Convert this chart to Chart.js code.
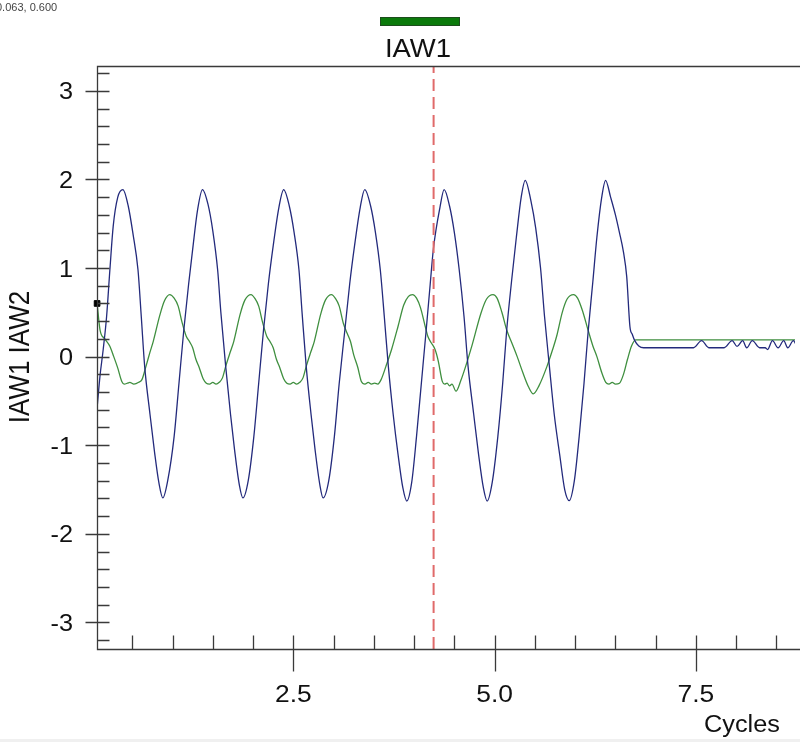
<!DOCTYPE html>
<html>
<head>
<meta charset="utf-8">
<title>IAW1 IAW2</title>
<script src="https://cdn.jsdelivr.net/npm/chart.js@4.4.1/dist/chart.umd.min.js"></script>
<style>
  html, body { margin: 0; padding: 0; background: #f0f0f0; overflow: hidden; }
  canvas { display: block; background: #fff; }
</style>
</head>
<body>
<canvas id="c" width="800" height="739"></canvas>
<script>
// waveform samples (x in cycles)
var iaw1X = [0.065, 0.099, 0.139, 0.181, 0.222, 0.263, 0.32, 0.384,
  0.45, 0.51, 0.571, 0.612, 0.654, 0.72, 0.777, 0.83, 0.88,
  0.94, 1.02, 1.08, 1.14, 1.20, 1.25, 1.31, 1.372,
  1.44, 1.50, 1.56, 1.60, 1.66, 1.72, 1.77, 1.83, 1.874,
  1.94, 2.01, 2.07, 2.13, 2.19, 2.25, 2.32, 2.38,
  2.45, 2.51, 2.57, 2.61, 2.66, 2.72, 2.77, 2.83, 2.87,
  2.94, 3.01, 3.07, 3.14, 3.20, 3.26, 3.33, 3.387,
  3.46, 3.52, 3.58, 3.63, 3.68, 3.74, 3.80, 3.86, 3.909,
  3.97, 4.03, 4.09, 4.15, 4.20, 4.24, 4.32, 4.373,
  4.44, 4.50, 4.56, 4.62, 4.67, 4.74, 4.80, 4.86, 4.907,
  4.97, 5.04, 5.10, 5.15, 5.21, 5.27, 5.33, 5.38,
  5.45, 5.51, 5.57, 5.62, 5.68, 5.74, 5.81, 5.87, 5.927,
  5.99, 6.05, 6.11, 6.16, 6.22, 6.27, 6.33, 6.378,
  6.44, 6.50, 6.55, 6.60, 6.64, 6.68, 6.71, 6.74, 6.79, 6.85,
  7.47, 7.57, 7.66, 7.85, 7.95, 8.01, 8.08, 8.13, 8.20, 8.29, 8.36, 8.39,
  8.45, 8.52, 8.59, 8.64, 8.71, 8.75];
var iaw1Y = [-0.56, -0.22, 0.08, 0.45, 0.98, 1.47, 1.80, 1.885,
  1.70, 1.38, 0.98, 0.45, -0.11, -0.65, -1.08, -1.42, -1.595,
  -1.40, -0.90, -0.30, 0.30, 0.82, 1.21, 1.65, 1.885,
  1.72, 1.42, 0.98, 0.50, -0.11, -0.65, -1.05, -1.45, -1.595,
  -1.40, -0.90, -0.30, 0.30, 0.82, 1.25, 1.68, 1.885,
  1.70, 1.40, 0.98, 0.48, -0.11, -0.65, -1.05, -1.45, -1.595,
  -1.40, -0.90, -0.30, 0.30, 0.82, 1.25, 1.68, 1.885,
  1.70, 1.40, 0.98, 0.45, -0.11, -0.65, -1.10, -1.48, -1.63,
  -1.42, -0.90, -0.30, 0.30, 0.82, 1.22, 1.68, 1.885,
  1.70, 1.40, 0.98, 0.45, -0.11, -0.65, -1.10, -1.48, -1.63,
  -1.42, -0.90, -0.30, 0.30, 0.85, 1.35, 1.80, 1.99,
  1.76, 1.45, 1.00, 0.45, -0.11, -0.65, -1.12, -1.50, -1.625,
  -1.40, -0.90, -0.30, 0.27, 0.85, 1.35, 1.80, 1.99,
  1.80, 1.60, 1.40, 1.18, 0.906, 0.34, 0.25, 0.18, 0.12, 0.10,
  0.10, 0.18, 0.10, 0.10, 0.18, 0.115, 0.18, 0.10, 0.18, 0.10, 0.10, 0.08,
  0.18, 0.10, 0.18, 0.10, 0.18, 0.12];

var iaw2X = [0.063, 0.10, 0.16, 0.22, 0.27, 0.32, 0.37, 0.40, 0.44, 0.47, 0.52, 0.58, 0.62,
  0.67, 0.72, 0.76, 0.84, 0.90, 0.965,
  1.02, 1.07, 1.12, 1.17, 1.21, 1.25, 1.29, 1.33, 1.38, 1.42, 1.46, 1.50, 1.54, 1.58, 1.62,
  1.66, 1.72, 1.76, 1.84, 1.90, 1.975,
  2.02, 2.07, 2.12, 2.17, 2.21, 2.25, 2.29, 2.33, 2.38, 2.42, 2.46, 2.50, 2.54, 2.58, 2.62,
  2.66, 2.72, 2.76, 2.84, 2.90, 2.975,
  3.02, 3.07, 3.12, 3.17, 3.21, 3.25, 3.30, 3.345, 3.39, 3.43, 3.47, 3.51, 3.55, 3.59,
  3.65, 3.72, 3.80, 3.87, 3.93, 3.98,
  4.03, 4.08, 4.13, 4.17, 4.21, 4.26, 4.30, 4.35, 4.38, 4.41, 4.44, 4.47, 4.52, 4.58,
  4.64, 4.72, 4.83, 4.90, 4.98,
  5.03, 5.09, 5.15, 5.22, 5.28, 5.35, 5.42, 5.48, 5.55,
  5.65, 5.72, 5.77, 5.84, 5.90, 5.98,
  6.03, 6.09, 6.16, 6.22, 6.27, 6.33, 6.38, 6.42, 6.46, 6.50, 6.55,
  6.60, 6.65, 6.70, 6.75, 8.75];
var iaw2Y = [0.60, 0.30, 0.20, 0.12, 0.00, -0.13, -0.28, -0.31, -0.30, -0.29, -0.31, -0.29, -0.26,
  -0.11, 0.05, 0.17, 0.46, 0.63, 0.70,
  0.66, 0.57, 0.38, 0.23, 0.17, 0.10, -0.03, -0.12, -0.25, -0.30, -0.31, -0.29, -0.31, -0.29, -0.24,
  -0.11, 0.06, 0.17, 0.48, 0.64, 0.70,
  0.66, 0.57, 0.38, 0.23, 0.17, 0.10, -0.03, -0.12, -0.25, -0.30, -0.31, -0.29, -0.31, -0.29, -0.24,
  -0.11, 0.06, 0.17, 0.48, 0.64, 0.70,
  0.66, 0.57, 0.38, 0.26, 0.17, 0.02, -0.12, -0.28, -0.31, -0.29, -0.31, -0.30, -0.31, -0.26,
  -0.11, 0.08, 0.34, 0.58, 0.68, 0.70,
  0.66, 0.55, 0.37, 0.23, 0.16, 0.08, -0.05, -0.28, -0.31, -0.30, -0.33, -0.31, -0.39, -0.27,
  -0.11, 0.13, 0.49, 0.65, 0.70,
  0.66, 0.50, 0.30, 0.14, 0.00, -0.18, -0.34, -0.42, -0.33,
  -0.11, 0.08, 0.23, 0.50, 0.65, 0.70,
  0.66, 0.52, 0.30, 0.12, 0.00, -0.18, -0.29, -0.31, -0.29, -0.31, -0.30,
  -0.20, -0.03, 0.12, 0.19, 0.19];

var cursorX = 4.242;
var markerX = [0.063];
var markerY = [0.600];
var coordText = '0.063, 0.600';

var yTicks = [3, 2, 1, 0, -1, -2, -3];
var yTickLabels = ['3', '2', '1', '0', '-1', '-2', '-3'];
var xTicks = [2.5, 5.0, 7.5];
var xTickLabels = ['2.5', '5.0', '7.5'];
var xMin = 0.062, xMax = 8.73, yMin = -3.30, yMax = 3.28;

function pts(xs, ys) {
  return xs.map(function (x, i) { return { x: x, y: ys[i] }; });
}

var FONT = '"Liberation Sans", Arial, sans-serif';
var AXIS = '#3a3a3a';

function text(ctx, s, x, y, align, size) {
  ctx.save();
  ctx.translate(x, y);
  ctx.scale(1.1, 1);
  ctx.font = size + 'px ' + FONT;
  ctx.textAlign = align;
  ctx.textBaseline = 'alphabetic';
  ctx.fillStyle = '#111';
  ctx.fillText(s, 0, 0);
  ctx.restore();
}

// frame, inside/outside ticks, labels and the legend swatch
var decor = {
  id: 'decor',
  afterDraw: function (chart) {
    var ctx = chart.ctx, a = chart.chartArea;
    var xs = chart.scales.x, ys = chart.scales.y;
    var L = a.left + 0.5, B = a.bottom + 0.5, T = a.top + 0.5;
    ctx.save();
    ctx.strokeStyle = AXIS;
    ctx.lineWidth = 1.3;
    ctx.beginPath();
    ctx.moveTo(chart.width, T); ctx.lineTo(L, T); ctx.lineTo(L, B); ctx.lineTo(chart.width, B);
    var v, p;
    for (v = -3.2; v <= 3.21; v += 0.2) {
      p = Math.round(ys.getPixelForValue(v)) + 0.5;
      ctx.moveTo(L, p); ctx.lineTo(L + 12, p);
    }
    yTicks.forEach(function (t) {
      p = Math.round(ys.getPixelForValue(t)) + 0.5;
      ctx.moveTo(L - 12, p); ctx.lineTo(L + 12, p);
    });
    for (v = 0.5; v <= xMax; v += 0.5) {
      p = Math.round(xs.getPixelForValue(v)) + 0.5;
      ctx.moveTo(p, B); ctx.lineTo(p, B - 14);
    }
    xTicks.forEach(function (t) {
      p = Math.round(xs.getPixelForValue(t)) + 0.5;
      ctx.moveTo(p, B - 14); ctx.lineTo(p, B + 22);
    });
    ctx.stroke();

    yTicks.forEach(function (t, i) {
      text(ctx, yTickLabels[i], 73, ys.getPixelForValue(t) + 8.5, 'right', 23);
    });
    xTicks.forEach(function (t, i) {
      text(ctx, xTickLabels[i], xs.getPixelForValue(t), 702, 'center', 24);
    });
    text(ctx, 'Cycles', 704, 732, 'left', 23);

    // y title
    ctx.save();
    ctx.translate(29, 357);
    ctx.scale(1.1, 1);
    ctx.rotate(-Math.PI / 2);
    ctx.font = '26px ' + FONT;
    ctx.textAlign = 'center';
    ctx.fillStyle = '#111';
    ctx.fillText('IAW1 IAW2', 0, 0);
    ctx.restore();

    // legend
    ctx.fillStyle = '#0b7a0b';
    ctx.fillRect(380, 17, 80, 9);
    ctx.strokeStyle = '#1d4d1d';
    ctx.lineWidth = 1;
    ctx.strokeRect(380.5, 17.5, 79, 8);
    text(ctx, 'IAW1', 418, 57, 'center', 25);

    // cursor readout (clipped at left edge)
    ctx.font = '11px ' + FONT;
    ctx.fillStyle = '#444';
    ctx.textAlign = 'left';
    ctx.fillText(coordText, -4, 11);
    ctx.restore();
  }
};

new Chart(document.getElementById('c'), {
  type: 'line',
  data: {
    datasets: [
      {
        label: 'cursor',
        data: [{ x: cursorX, y: yMin }, { x: cursorX, y: yMax }],
        borderColor: '#e06a6a',
        borderWidth: 2,
        borderDash: [12, 6],
        pointRadius: 0,
        order: 0
      },
      {
        label: 'marker',
        data: pts(markerX, markerY),
        showLine: false,
        pointStyle: 'rect',
        pointRadius: 4,
        backgroundColor: '#000',
        borderColor: '#000',
        clip: false,
        order: 0
      },
      {
        label: 'IAW1',
        data: pts(iaw1X, iaw1Y),
        borderColor: '#232a7c',
        borderWidth: 1.3,
        pointRadius: 0,
        cubicInterpolationMode: 'monotone',
        order: 1
      },
      {
        label: 'IAW2',
        data: pts(iaw2X, iaw2Y),
        borderColor: '#3f8f3f',
        borderWidth: 1.3,
        pointRadius: 0,
        cubicInterpolationMode: 'monotone',
        order: 2
      }
    ]
  },
  options: {
    responsive: false,
    animation: false,
    layout: { padding: { top: 66, left: 0, right: 0, bottom: 0 } },
    plugins: { legend: { display: false }, tooltip: { enabled: false }, title: { display: false } },
    scales: {
      x: {
        type: 'linear', min: xMin, max: xMax,
        grid: { display: false }, border: { display: false },
        ticks: { display: false },
        afterFit: function (s) { s.height = 90; }
      },
      y: {
        type: 'linear', min: yMin, max: yMax,
        grid: { display: false }, border: { display: false },
        ticks: { display: false },
        afterFit: function (s) { s.width = 97; }
      }
    }
  },
  plugins: [decor]
});
</script>
</body>
</html>
